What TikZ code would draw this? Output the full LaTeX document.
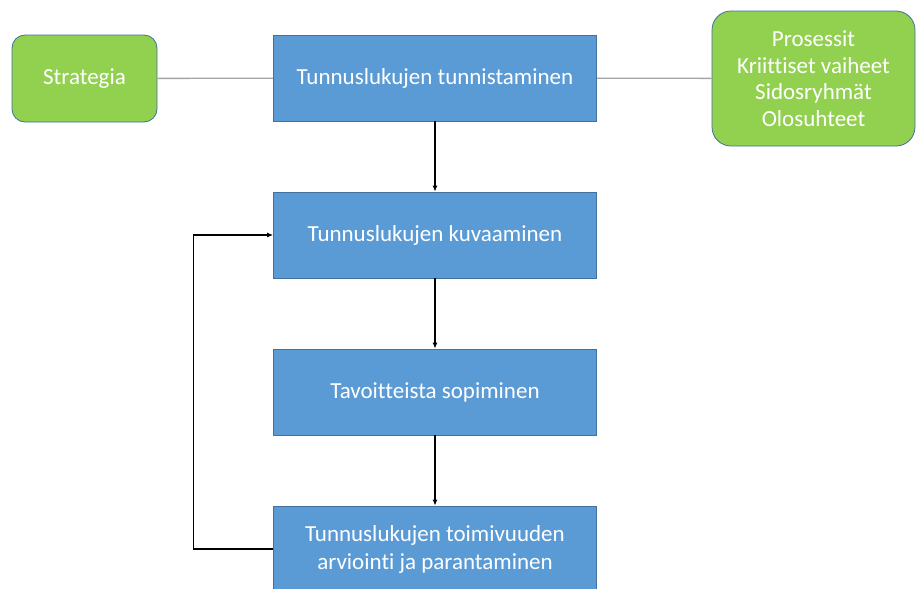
\documentclass[tikz,border=0pt]{standalone}
\usepackage{fontspec}
\setmainfont[Ligatures=NoCommon]{Carlito}
\usetikzlibrary{arrows.meta}
\definecolor{stepblue}{HTML}{5B9BD5}
\definecolor{stepedge}{HTML}{41719C}
\definecolor{sidegreen}{HTML}{92D050}
\definecolor{linkgray}{HTML}{A5A5A5}
\tikzset{
  stepbox/.style={draw=stepedge, line width=0.8pt, fill=stepblue, text=white,
    minimum width=323pt, minimum height=86pt, inner sep=0pt, align=center,
    font=\fontsize{23}{28}\selectfont},
  sidebox/.style={draw=stepedge, line width=0.8pt, fill=sidegreen, text=white,
    inner sep=0pt, align=center, font=\fontsize{23}{26.5}\selectfont},
  flow/.style={draw=black, line width=1.1pt, -{Latex[length=6pt,width=5pt]}},
  link/.style={draw=linkgray, line width=1.3pt}
}
\begin{document}
\begin{tikzpicture}[x=1pt,y=-1pt]
\useasboundingbox (0,0) rectangle (916,589);
\fill[white] (0,0) rectangle (916,589);

\node[stepbox] (s1) at (435,78) {Tunnuslukujen tunnistaminen};
\node[stepbox] (s2) at (435,235) {Tunnuslukujen kuvaaminen};
\node[stepbox] (s3) at (435,392) {Tavoitteista sopiminen};
\node[stepbox] (s4) at (435,549) {Tunnuslukujen toimivuuden\\arviointi ja parantaminen};

\node[sidebox, rounded corners=13pt, minimum width=145pt, minimum height=87pt]
  (strat) at (84.5,78.5) {Strategia};
\node[sidebox, rounded corners=19pt, minimum width=203pt, minimum height=135pt]
  (ctx) at (813.5,78.5) {Prosessit\\Kriittiset vaiheet\\Sidosryhmät\\Olosuhteet};

\draw[link] (strat) -- (s1);
\draw[link] (s1) -- (ctx);

\draw[flow] (s1) -- (s2);
\draw[flow] (s2) -- (s3);
\draw[flow] (s3) -- (s4);
\coordinate (loop) at ([xshift=-80pt]s4.west);
\draw[flow] (s4.west) -- (loop) |- (s2.west);
\end{tikzpicture}
\end{document}
